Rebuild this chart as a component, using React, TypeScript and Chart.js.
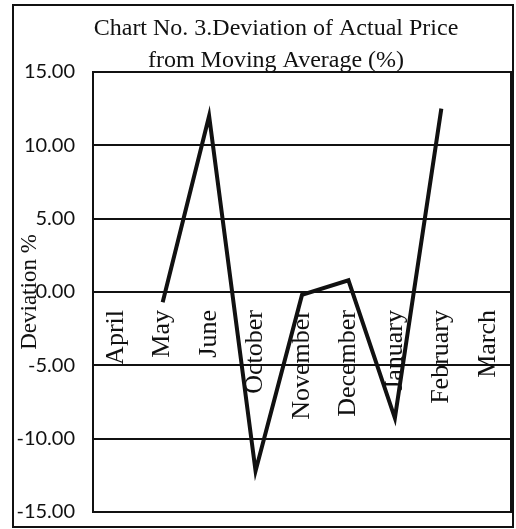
import React, { useEffect, useRef } from "react";
import { Chart, registerables } from "chart.js";

Chart.register(...registerables);

const categories = ["April", "May", "June", "October", "November", "December", "January", "February", "March"];
const deviation: (number | null)[] = [null, -0.7, 12.0, -12.2, -0.2, 0.8, -8.6, 12.5, null];
const titleLines = ["Chart No. 3.Deviation of Actual Price", "from Moving Average (%)"];
const yAxisTitle = "Deviation %";
const yMin = -15;
const yMax = 15;
const yStep = 5;

export default function App() {
  const ref = useRef<HTMLCanvasElement>(null);

  useEffect(() => {
    if (!ref.current) return;
    const ink = "#111111";

    const titlePlugin = {
      id: "scanTitle",
      afterDraw(chart: any) {
        const ctx = chart.ctx;
        ctx.save();
        ctx.fillStyle = ink;
        ctx.font = "24px 'Liberation Serif'";
        ctx.textAlign = "center";
        ctx.textBaseline = "alphabetic";
        ctx.fillText(titleLines[0], 276, 35);
        ctx.fillText(titleLines[1], 276, 67);
        ctx.restore();
      },
    };

    const rightEdgePlugin = {
      id: "rightEdge",
      beforeDatasetsDraw(chart: any) {
        const { right, top, bottom } = chart.chartArea;
        const ctx = chart.ctx;
        ctx.save();
        ctx.strokeStyle = ink;
        ctx.lineWidth = 2;
        ctx.beginPath();
        ctx.moveTo(right, top - 1);
        ctx.lineTo(right, bottom + 1);
        ctx.stroke();
        ctx.restore();
      },
    };

    const zeroPad = (s: any) => {
      s.paddingLeft = 0;
      s.paddingRight = 0;
      s.paddingTop = 0;
      s.paddingBottom = 0;
    };

    const chart = new Chart(ref.current, {
      type: "line",
      data: {
        labels: categories,
        datasets: [
          {
            data: deviation,
            borderColor: ink,
            borderWidth: 4,
            pointRadius: 0,
            tension: 0,
            borderJoinStyle: "miter",
            borderCapStyle: "butt",
            spanGaps: false,
          },
        ],
      },
      options: {
        responsive: false,
        animation: false,
        layout: { padding: { left: 10, right: 5, top: 72, bottom: 17 } },
        plugins: {
          legend: { display: false },
          tooltip: { enabled: false },
          title: { display: false },
        },
        scales: {
          x: {
            type: "category",
            position: { y: 0 } as any,
            offset: true,
            grid: { display: false },
            border: { display: false },
            ticks: {
              autoSkip: false,
              minRotation: 90,
              maxRotation: 90,
              color: ink,
              padding: 10,
              font: { family: "Liberation Serif", size: 26 },
            },
            afterFit: zeroPad,
          },
          y: {
            min: yMin,
            max: yMax,
            ticks: {
              stepSize: yStep,
              color: ink,
              padding: 18,
              font: { family: "Lato", size: 20 },
              callback: (v: any) => Number(v).toFixed(2),
            },
            grid: { color: ink, lineWidth: 2, drawTicks: false },
            border: { display: true, color: ink, width: 2 },
            title: {
              display: true,
              text: yAxisTitle,
              color: ink,
              font: { family: "Liberation Serif", size: 23 },
              padding: { top: 6, bottom: 0 },
            },
            afterFit: (s: any) => {
              zeroPad(s);
              s.width = 83;
            },
          },
        },
      },
      plugins: [titlePlugin, rightEdgePlugin],
    });

    return () => chart.destroy();
  }, []);

  return (
    <div style={{ position: "fixed", left: 0, top: 0, width: 516, height: 529, background: "#ffffff" }}>
      <canvas ref={ref} width={516} height={529} style={{ display: "block", width: 516, height: 529 }} />
      <div
        style={{
          position: "absolute",
          left: 12,
          top: 4,
          width: 502,
          height: 524,
          boxSizing: "border-box",
          border: "2px solid #111111",
          pointerEvents: "none",
        }}
      />
    </div>
  );
}
